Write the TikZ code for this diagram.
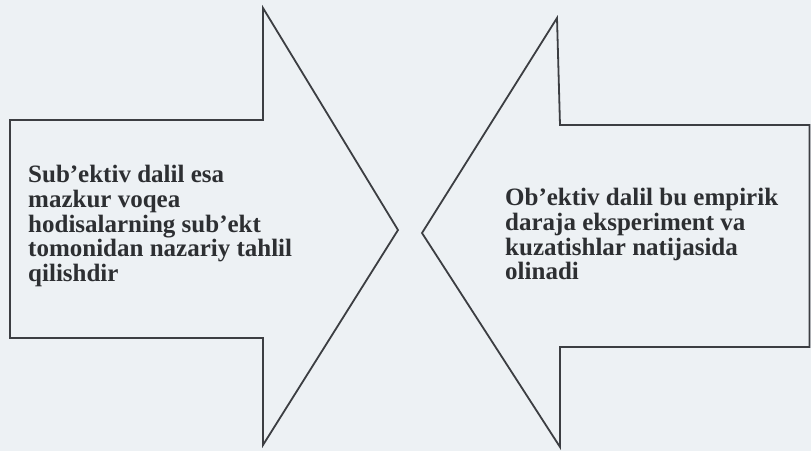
\documentclass[tikz,border=0pt]{standalone}
\usepackage{fontspec}
\setmainfont{Liberation Serif}
\definecolor{pagebg}{RGB}{237,241,244}
\definecolor{inkline}{RGB}{60,62,66}
\definecolor{inktext}{RGB}{45,47,50}
\begin{document}
\begin{tikzpicture}[x=1pt,y=-1pt,
  arrowshape/.style={draw=inkline,line width=1.8pt,line join=miter},
  bodytext/.style={font=\fontsize{25}{24.8}\selectfont\bfseries,align=left,inner sep=0pt,text=inktext,anchor=north west}]
\fill[pagebg] (0,0) rectangle (811,451);
\useasboundingbox (0,0) rectangle (811,451);
% left arrow (pointing right)
\draw[arrowshape] (263,8) -- (398,230) -- (263,445) -- (263,338) -- (10,338) -- (10,120) -- (263,120) -- cycle;
% right arrow (pointing left)
\draw[arrowshape] (557,18) -- (422,233) -- (560,447) -- (560,347) -- (809.5,347) -- (809.5,125) -- (560,125) -- cycle;
\node[bodytext] (subj) at (28,165) {Sub’ektiv dalil esa\\mazkur voqea\\hodisalarning sub’ekt\\tomonidan nazariy tahlil\\qilishdir};
\node[bodytext] (obj) at (505,188) {Ob’ektiv dalil bu empirik\\daraja eksperiment va\\kuzatishlar natijasida\\olinadi};
\end{tikzpicture}
\end{document}
